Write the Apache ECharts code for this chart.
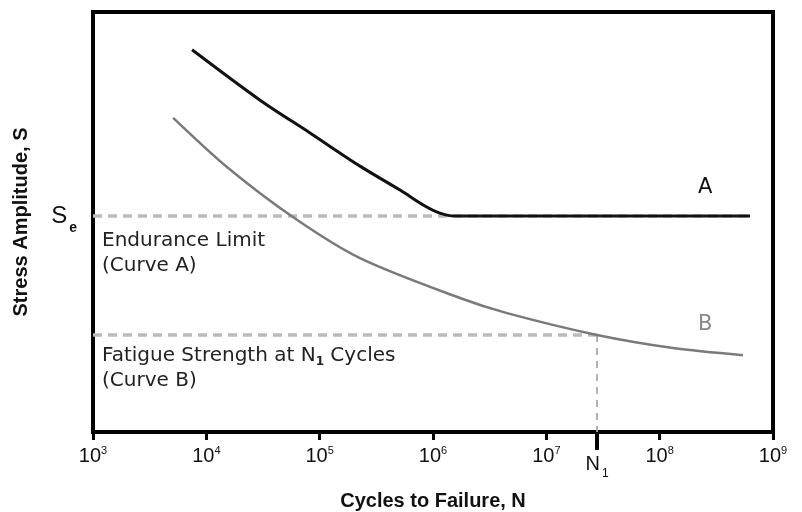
<!DOCTYPE html>
<html>
<head>
<meta charset="utf-8">
<script src="https://cdn.jsdelivr.net/npm/echarts@6/dist/echarts.min.js"></script>
<style>
  html, body { margin: 0; padding: 0; background: #fff; }
  #main { width: 802px; height: 512px; }
</style>
</head>
<body>
<div id="main"></div>
<script>
// S-N curves (cycles, stress amplitude in arbitrary units 0..100)
var curveA_N = [7480, 29800, 82200, 227000, 512000, 850000, 1150000, 1560000, 627000000];
var curveA_S = [91, 79, 71.2, 63.3, 57.6, 53.8, 52.1, 51.4, 51.4];
var curveB_N = [5100, 15200, 58000, 227000, 1730000, 4500000, 28000000, 131000000, 543000000];
var curveB_S = [74.8, 63.1, 51.2, 41.4, 31.9, 28.3, 23.1, 20, 18.3];

var SE = 51.4;        // endurance limit
var SF = 23.1;        // fatigue strength at N1
var N1 = 28000000;

function pairs(xs, ys) {
  var out = [];
  for (var i = 0; i < xs.length; i++) out.push([xs[i], ys[i]]);
  return out;
}

var myChart = echarts.init(document.getElementById('main'));
var font = 'DejaVu Sans';

var option = {
  backgroundColor: '#fff',
  animation: false,
  grid: {
    left: 93, right: 29, top: 12, bottom: 80,
    outerBoundsMode: 'none', containLabel: false,
    show: true, borderColor: '#000', borderWidth: 4
  },
  xAxis: [
    {
      type: 'log', logBase: 10, min: 1e3, max: 1e9,
      name: 'Cycles to Failure, N',
      nameLocation: 'middle', nameGap: 59,
      nameTextStyle: { fontFamily: 'Liberation Sans', fontWeight: 'bold', fontSize: 20, color: '#111' },
      axisLine: { lineStyle: { color: '#000', width: 4 } },
      axisTick: { inside: false, length: 8, lineStyle: { color: '#000', width: 3 } },
      splitLine: { show: false },
      axisLabel: {
        margin: 13, color: '#111', showMinLabel: true, showMaxLabel: true,
        formatter: function (v) { return '10{sup|' + Math.round(Math.log10(v)) + '}'; },
        rich: {
          sup: { fontSize: 11, lineHeight: 12, verticalAlign: 'top', fontFamily: 'Liberation Sans', color: '#111' }
        },
        fontFamily: 'Liberation Sans', fontSize: 20, lineHeight: 22
      }
    },
    {
      type: 'log', logBase: 10, min: 1e3, max: 1e9, position: 'bottom',
      axisLine: { show: false },
      splitLine: { show: false },
      axisTick: { show: true, inside: false, length: 18, customValues: [N1], lineStyle: { color: '#000', width: 4 } },
      axisLabel: {
        show: true, customValues: [N1], margin: 21, color: '#111',
        formatter: function () { return 'N{sub|1}'; },
        fontFamily: 'Liberation Sans', fontSize: 20, lineHeight: 22,
        rich: {
          sub: { fontSize: 12, lineHeight: 12, verticalAlign: 'bottom', fontFamily: 'Liberation Sans', color: '#111', padding: [0, 0, -5, 2] }
        }
      }
    }
  ],
  yAxis: {
    type: 'value', min: 0, max: 100,
    name: 'Stress Amplitude, S',
    nameLocation: 'middle', nameGap: 62, nameRotate: 90,
    nameTextStyle: { fontFamily: 'Liberation Sans', fontWeight: 'bold', fontSize: 20, color: '#111' },
    axisLine: { lineStyle: { color: '#000', width: 4 } },
    axisTick: { show: false },
    splitLine: { show: false },
    axisLabel: {
      show: true, customValues: [SE], margin: 16, color: '#111',
      formatter: function () { return 'S{sub|e}'; },
      fontFamily: 'Liberation Sans', fontSize: 24, lineHeight: 26,
      rich: {
        sub: { fontSize: 14, lineHeight: 12, verticalAlign: 'bottom', fontFamily: 'Liberation Sans', fontWeight: 'bold', color: '#111', padding: [0, 0, -6, 2] }
      }
    }
  },
  series: [
    {
      name: 'Se line', type: 'line', showSymbol: false, silent: true,
      data: [[1e3, SE], [curveA_N[curveA_N.length - 1], SE]],
      lineStyle: { color: '#bbb', width: 3.5, type: [9, 6] }
    },
    {
      name: 'Fatigue line', type: 'line', showSymbol: false, silent: true,
      data: [[1e3, SF], [N1, SF]],
      lineStyle: { color: '#bbb', width: 3.5, type: [9, 6] }
    },
    {
      name: 'N1 line', type: 'line', showSymbol: false, silent: true,
      data: [[N1, SF], [N1, 0]],
      lineStyle: { color: '#aaa', width: 1.8, type: [7, 6] }
    },
    {
      name: 'A', type: 'line', smooth: 0.3, showSymbol: false,
      data: pairs(curveA_N, curveA_S),
      lineStyle: { color: '#111', width: 3 }
    },
    {
      name: 'B', type: 'line', smooth: 0.3, showSymbol: false,
      data: pairs(curveB_N, curveB_S),
      lineStyle: { color: '#7a7a7a', width: 2.5 }
    }
  ],
  graphic: [
    { type: 'text', left: 102, top: 228, style: { text: 'Endurance Limit\n(Curve A)', font: '20px "' + font + '"', fill: '#222', lineHeight: 25 } },
    { type: 'text', left: 102, top: 343, style: {
        text: 'Fatigue Strength at N{sub|1} Cycles\n(Curve B)', font: '20px "' + font + '"', fill: '#222', lineHeight: 25,
        rich: { sub: { fontSize: 12, lineHeight: 14, verticalAlign: 'bottom', fontFamily: font, fontWeight: 'bold', fill: '#222' } } } },
    { type: 'text', left: 698, top: 177, style: { text: 'A', font: '21px "' + font + '"', fill: '#111' } },
    { type: 'text', left: 698, top: 314, style: { text: 'B', font: '21px "' + font + '"', fill: '#888' } }
  ]
};

myChart.setOption(option);
</script>
</body>
</html>
